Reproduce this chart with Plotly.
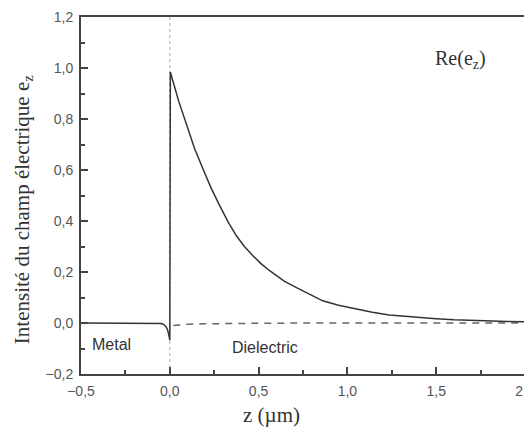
import plotly.graph_objects as go

# Solid curve: Re(e_z)
z_solid = [-0.5, -0.3, -0.1, -0.06, -0.045, -0.03, -0.02, -0.012, -0.006, -0.002, 0.0,
           0.003, 0.05, 0.094, 0.14, 0.187, 0.234, 0.281, 0.328, 0.375, 0.42, 0.468,
           0.515, 0.562, 0.646, 0.73, 0.8, 0.861, 0.95, 1.049, 1.14, 1.236, 1.32,
           1.404, 1.5, 1.6, 1.7, 1.8, 1.9, 2.0]
e_solid = [0.0, 0.0, 0.0, 0.0, -0.002, -0.008, -0.016, -0.028, -0.042, -0.058, -0.068,
           0.984, 0.87, 0.774, 0.683, 0.604, 0.527, 0.46, 0.397, 0.342, 0.3, 0.264,
           0.232, 0.205, 0.163, 0.133, 0.108, 0.087, 0.07, 0.055, 0.042, 0.031, 0.026,
           0.022, 0.017, 0.013, 0.01, 0.008, 0.006, 0.005]

# Dashed curve
z_dash = [0.02, 0.1, 0.2, 0.3, 0.5, 0.8, 1.0, 1.5, 2.0]
e_dash = [-0.01, -0.005, -0.003, -0.002, -0.001, 0.0, 0.0, 0.0, 0.0]

x_ticks = [-0.5, 0.0, 0.5, 1.0, 1.5, 2.0]
y_ticks = [-0.2, 0.0, 0.2, 0.4, 0.6, 0.8, 1.0, 1.2]

SERIF = "Liberation Serif, Times New Roman, serif"
SANS = "Arial"

fig = go.Figure()
fig.add_trace(go.Scatter(x=z_dash, y=e_dash, mode="lines",
                         line=dict(color="#666666", width=1.5, dash="7px,6px"),
                         showlegend=False))
fig.add_trace(go.Scatter(x=z_solid, y=e_solid, mode="lines",
                         line=dict(color="#333333", width=1.5),
                         showlegend=False))

fig.add_shape(type="line", xref="x", yref="paper", x0=0, x1=0, y0=0, y1=1,
              line=dict(color="#aaaaaa", width=1, dash="dot"), layer="below")

axis_common = dict(showgrid=False, zeroline=False, showline=True, mirror=True,
                   automargin=False,
                   linecolor="#444444", linewidth=2, ticks="inside",
                   tickcolor="#444444", ticklen=7, tickwidth=1.5,
                   ticklabelstandoff=3,
                   tickfont=dict(family=SANS, size=14, color="#555555"))

fig.update_xaxes(range=[-0.5, 2.0], tickvals=x_ticks, tickformat=".1f",
                 ticklabeloverflow="allow",
                 minor=dict(ticks="inside", ticklen=4, tickwidth=1.5, tickcolor="#444444", dtick=0.25),
                 **axis_common)
fig.update_yaxes(range=[-0.2, 1.2], tickvals=y_ticks, tickformat=".1f",
                 ticklabeloverflow="allow",
                 minor=dict(ticks="inside", ticklen=4, tickwidth=1.5, tickcolor="#444444", dtick=0.1),
                 **axis_common)

# axis titles (placed as annotations to match the reference positions)
fig.add_annotation(x=-0.1306, y=0.459, xref="paper", yref="paper",
                   text="Intensité du champ électrique e<sub>z</sub>", textangle=-90,
                   showarrow=False, xanchor="center", yanchor="middle",
                   font=dict(family=SERIF, size=21, color="#333333"))
fig.add_annotation(x=0.430, y=-0.115, xref="paper", yref="paper",
                   text="z (µm)", showarrow=False, xanchor="center", yanchor="middle",
                   font=dict(family=SERIF, size=21, color="#333333"))

fig.add_annotation(x=0.854, y=0.88, xref="paper", yref="paper", text="Re(e<sub>z</sub>)",
                   showarrow=False, xanchor="center", yanchor="middle",
                   font=dict(family=SERIF, size=20, color="#333333"))
fig.add_annotation(x=-0.33, y=-0.086, xref="x", yref="y", text="Metal", showarrow=False,
                   font=dict(family=SANS, size=16, color="#333333"))
fig.add_annotation(x=0.534, y=-0.098, xref="x", yref="y", text="Dielectric", showarrow=False,
                   font=dict(family=SANS, size=16, color="#333333"))

fig.update_layout(width=524, height=423, margin=dict(l=73, r=7, t=9, b=57),
                  paper_bgcolor="white", plot_bgcolor="white", separators=", ")
fig.write_html("out.html")
